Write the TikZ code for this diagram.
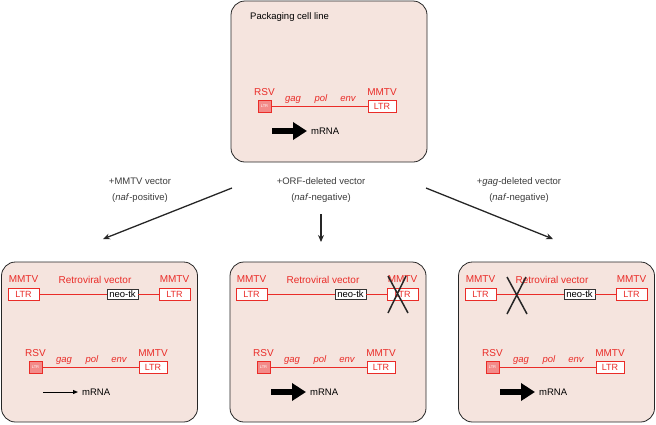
\documentclass[tikz,border=0pt]{standalone}
\usepackage{fontspec}
\setmainfont{Liberation Sans}
\usepackage{tikz}
\usetikzlibrary{arrows.meta, positioning}
\definecolor{vred}{RGB}{234,44,40}
\definecolor{cellpink}{RGB}{245,228,222}
\definecolor{labgray}{RGB}{60,60,60}
\tikzstyle{cell}      = [rectangle, draw=black!85, fill=cellpink, line width=0.8pt, rounded corners=14pt, minimum width=196pt, minimum height=160pt]
\tikzstyle{ltr}       = [rectangle, draw=vred, fill=white, line width=0.8pt, minimum width=28pt, minimum height=12pt, inner sep=0pt, text=vred, font=\fontsize{9}{9}\selectfont]
\tikzstyle{rsvbox}    = [rectangle, draw=vred, fill=vred!55, line width=0.8pt, minimum width=13pt, minimum height=12pt, inner sep=0pt, text=white, font=\fontsize{4}{4}\selectfont]
\tikzstyle{neobox}    = [rectangle, draw=black!80, fill=white, line width=0.8pt, minimum width=31pt, minimum height=10pt, inner sep=0pt, font=\fontsize{9.5}{9.5}\selectfont]
\tikzstyle{redtext}   = [inner sep=0pt, text=vred, font=\fontsize{10}{10}\selectfont]
\tikzstyle{gene}      = [inner sep=0pt, anchor=base, text=vred, font=\fontsize{9.5}{9.5}\selectfont\itshape]
\tikzstyle{blacktext} = [inner sep=0pt, font=\fontsize{9.5}{9.5}\selectfont]
\tikzstyle{vlabel}    = [align=center, inner sep=0pt, text=labgray, font=\fontsize{9.5}{16}\selectfont]
\tikzstyle{redline}   = [draw=vred, line width=0.8pt]
\tikzstyle{arrow}     = [-{Stealth[length=7pt, width=6pt]}, line width=1.3pt, black!85]
\tikzstyle{fatarrow}  = [-{Triangle[length=14pt, width=17pt]}, line width=6pt]
\tikzstyle{thinarrow} = [-{Triangle[length=5pt, width=4pt]}, line width=1pt]
\tikzstyle{cross}     = [line width=1.5pt, black!85]

\begin{document}
\begin{tikzpicture}[x=1pt, y=-1pt]
    \useasboundingbox (0,0) rectangle (656,424);

    \node (pack) [cell, minimum height=161pt] at (329,81.5) {};
    \node (vecA) [cell] at (99.5,342) {};
    \node (vecB) [cell] at (328,342) {};
    \node (vecC) [cell] at (556.5,342) {};

    % packaging cell line
    \begin{scope}[shift={(231,1)}, name prefix=p-]
      \node (title) [blacktext, anchor=west] at (19,16) {Packaging cell line};
      \node (rsvltr) [rsvbox] at (33.5,105) {LTR};
      \node (rsv) [redtext, above=4pt of rsvltr] {RSV};
      \node (mmtvltr) [ltr] at (151,105) {LTR};
      \node (mmtv) [redtext, above=4pt of mmtvltr] {MMTV};
      \node (gag) [gene] at (62,100) {gag};
      \node (pol) [gene] at (90,100) {pol};
      \node (env) [gene] at (117,100) {env};
      \coordinate (mstart) at (41,130);
      \node (mrna) [blacktext, anchor=west] at (80,130) {mRNA};
      \draw [redline] (rsvltr) -- (mmtvltr);
      \draw [fatarrow, shorten >=4pt] (mstart) -- (mrna.west);
    \end{scope}

    % MMTV vector
    \begin{scope}[shift={(2,262)}, name prefix=a-]
      \node (ltrL) [ltr, minimum width=31pt] at (21.5,32) {LTR};
      \node (mmtvL) [redtext, above=5pt of ltrL] {MMTV};
      \node (neo) [neobox] at (120.5,32) {neo-tk};
      \node (ltrR) [ltr, minimum width=31pt] at (172.5,32) {LTR};
      \node (mmtvR) [redtext, above=5pt of ltrR] {MMTV};
      \node (retro) [redtext, anchor=base] at (93,21) {Retroviral vector};
      \draw [redline] (ltrL) -- (neo) -- (ltrR);
      \node (rsvltr) [rsvbox] at (33.5,105) {LTR};
      \node (rsv) [redtext, above=4pt of rsvltr] {RSV};
      \node (mmtvltr) [ltr] at (151,105) {LTR};
      \node (mmtv) [redtext, above=4pt of mmtvltr] {MMTV};
      \node (gag) [gene] at (62,100) {gag};
      \node (pol) [gene] at (90,100) {pol};
      \node (env) [gene] at (117,100) {env};
      \coordinate (mstart) at (41,130);
      \node (mrna) [blacktext, anchor=west] at (80,130) {mRNA};
      \draw [redline] (rsvltr) -- (mmtvltr);
      \draw [thinarrow, shorten >=4pt] (mstart) -- (mrna.west);
    \end{scope}

    % ORF-deleted vector
    \begin{scope}[shift={(230,262)}, name prefix=b-]
      \node (ltrL) [ltr, minimum width=31pt] at (21.5,32) {LTR};
      \node (mmtvL) [redtext, above=5pt of ltrL] {MMTV};
      \node (neo) [neobox] at (120.5,32) {neo-tk};
      \node (ltrR) [ltr, minimum width=31pt] at (172.5,32) {LTR};
      \node (mmtvR) [redtext, above=5pt of ltrR] {MMTV};
      \node (retro) [redtext, anchor=base] at (93,21) {Retroviral vector};
      \draw [redline] (ltrL) -- (neo) -- (ltrR);
      \draw [cross] (158,14) -- (178,51) (176,14) -- (158,51);
      \node (rsvltr) [rsvbox] at (33.5,105) {LTR};
      \node (rsv) [redtext, above=4pt of rsvltr] {RSV};
      \node (mmtvltr) [ltr] at (151,105) {LTR};
      \node (mmtv) [redtext, above=4pt of mmtvltr] {MMTV};
      \node (gag) [gene] at (62,100) {gag};
      \node (pol) [gene] at (90,100) {pol};
      \node (env) [gene] at (117,100) {env};
      \coordinate (mstart) at (41,130);
      \node (mrna) [blacktext, anchor=west] at (80,130) {mRNA};
      \draw [redline] (rsvltr) -- (mmtvltr);
      \draw [fatarrow, shorten >=4pt] (mstart) -- (mrna.west);
    \end{scope}

    % gag-deleted vector
    \begin{scope}[shift={(459,262)}, name prefix=c-]
      \node (ltrL) [ltr, minimum width=31pt] at (21.5,32) {LTR};
      \node (mmtvL) [redtext, above=5pt of ltrL] {MMTV};
      \node (neo) [neobox] at (120.5,32) {neo-tk};
      \node (ltrR) [ltr, minimum width=31pt] at (172.5,32) {LTR};
      \node (mmtvR) [redtext, above=5pt of ltrR] {MMTV};
      \node (retro) [redtext, anchor=base] at (93,21) {Retroviral vector};
      \draw [redline] (ltrL) -- (neo) -- (ltrR);
      \draw [cross] (48,15) -- (68,52) (67,15) -- (48,52);
      \node (rsvltr) [rsvbox] at (33.5,105) {LTR};
      \node (rsv) [redtext, above=4pt of rsvltr] {RSV};
      \node (mmtvltr) [ltr] at (151,105) {LTR};
      \node (mmtv) [redtext, above=4pt of mmtvltr] {MMTV};
      \node (gag) [gene] at (62,100) {gag};
      \node (pol) [gene] at (90,100) {pol};
      \node (env) [gene] at (117,100) {env};
      \coordinate (mstart) at (41,130);
      \node (mrna) [blacktext, anchor=west] at (80,130) {mRNA};
      \draw [redline] (rsvltr) -- (mmtvltr);
      \draw [fatarrow, shorten >=4pt] (mstart) -- (mrna.west);
    \end{scope}

    % branches
    \node (lblA) [vlabel] at (140,190) {+MMTV vector\\(\textit{naf}-positive)};
    \node (lblB) [vlabel] at (321,190) {+ORF-deleted vector\\(\textit{naf}-negative)};
    \node (lblC) [vlabel] at (519,190) {+\textit{gag}-deleted vector\\(\textit{naf}-negative)};
    \coordinate (fromA) at (232,188);
    \coordinate (toA) at (103,239);
    \coordinate (fromB) at (321,214);
    \coordinate (toB) at (321,242);
    \coordinate (fromC) at (426,188);
    \coordinate (toC) at (553,239);
    \draw [arrow] (fromA) -- (toA);
    \draw [arrow] (fromB) -- (toB);
    \draw [arrow] (fromC) -- (toC);
  \end{tikzpicture}
\end{document}
